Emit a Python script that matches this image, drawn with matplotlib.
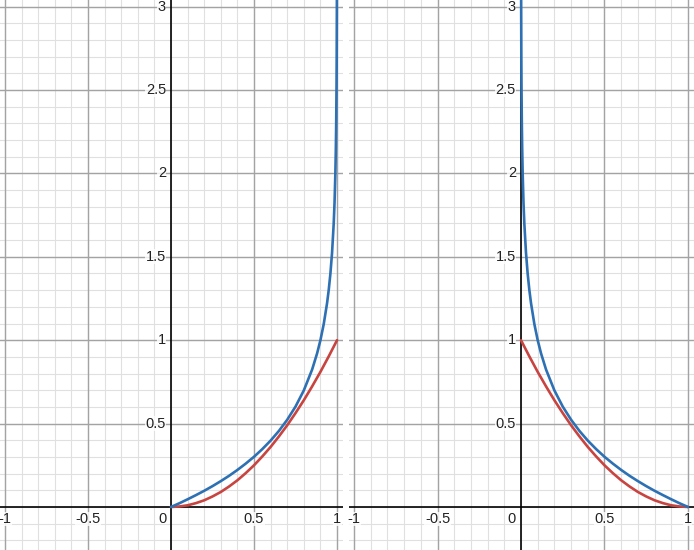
import numpy as np
import matplotlib
matplotlib.use('Agg')
import matplotlib.pyplot as plt

plt.rcParams['font.family'] = ['Liberation Sans', 'DejaVu Sans']

# left panel
x_left = [0, 0.05, 0.1, 0.15, 0.2, 0.25, 0.3, 0.35, 0.4, 0.45, 0.5, 0.55, 0.6,
          0.65, 0.7, 0.75, 0.8, 0.85, 0.88, 0.9, 0.92, 0.94, 0.95, 0.96, 0.97,
          0.98, 0.985, 0.99, 0.993, 0.995, 0.997, 0.998, 0.999, 0.9995]
blue_left = [0, 0.022, 0.046, 0.071, 0.097, 0.125, 0.155, 0.187, 0.222, 0.26,
             0.301, 0.347, 0.398, 0.456, 0.523, 0.602, 0.699, 0.824, 0.921, 1.0,
             1.097, 1.222, 1.301, 1.398, 1.523, 1.699, 1.824, 2.0, 2.155, 2.301,
             2.523, 2.699, 3.0, 3.3]
xr_left = [0, 0.05, 0.1, 0.15, 0.2, 0.25, 0.3, 0.35, 0.4, 0.45, 0.5, 0.55, 0.6,
           0.65, 0.7, 0.75, 0.8, 0.85, 0.9, 0.95, 1.0]
red_left = [0, 0.003, 0.01, 0.023, 0.04, 0.063, 0.09, 0.123, 0.16, 0.203, 0.25,
            0.303, 0.36, 0.423, 0.49, 0.563, 0.64, 0.723, 0.81, 0.903, 1.0]

# right panel
x_right = [1.0, 0.95, 0.9, 0.85, 0.8, 0.75, 0.7, 0.65, 0.6, 0.55, 0.5, 0.45, 0.4,
           0.35, 0.3, 0.25, 0.2, 0.15, 0.12, 0.1, 0.08, 0.06, 0.05, 0.04, 0.03,
           0.02, 0.015, 0.01, 0.007, 0.005, 0.003, 0.002, 0.001, 0.0005]
blue_right = blue_left
xr_right = [1.0, 0.95, 0.9, 0.85, 0.8, 0.75, 0.7, 0.65, 0.6, 0.55, 0.5, 0.45, 0.4,
            0.35, 0.3, 0.25, 0.2, 0.15, 0.1, 0.05, 0]
red_right = red_left

xticks = [-1, -0.5, 0.5, 1]
xlabels = ['-1', '-0.5', '0.5', '1']
yticks = [0.5, 1, 1.5, 2, 2.5, 3]
ylabels = ['0.5', '1', '1.5', '2', '2.5', '3']

BLUE = '#2d70b3'
RED = '#c74440'

fig = plt.figure(figsize=(6.94, 5.5), dpi=100)
panels = [([0, 0, 343/694., 1], x_left, blue_left, xr_left, red_left),
          ([349/694., 0, 345/694., 1], x_right, blue_right, xr_right, red_right)]

for rect, xb, yb, xr, yr in panels:
    ax = fig.add_axes(rect)
    ax.set_xlim(-1.03, 1.036)
    ax.set_ylim(-0.258, 3.04)
    for s in ax.spines.values():
        s.set_visible(False)
    ax.set_xticks([])
    ax.set_yticks([])
    for v in np.arange(-1.0, 1.05, 0.1):
        ax.axvline(v, color='#e0e0e0', lw=0.8, zorder=0)
    for v in np.arange(-0.2, 3.05, 0.1):
        ax.axhline(v, color='#e0e0e0', lw=0.8, zorder=0)
    for v in [-1, -0.5, 0.5, 1]:
        ax.axvline(v, color='#a3a3a3', lw=1.0, zorder=1)
    for v in [0.5, 1, 1.5, 2, 2.5, 3]:
        ax.axhline(v, color='#a3a3a3', lw=1.0, zorder=1)
    ax.axvline(0, color='black', lw=1.2, zorder=2)
    ax.axhline(0, color='black', lw=1.2, zorder=2)

    ax.plot(xr, yr, color=RED, lw=1.9, zorder=4, solid_capstyle='round')
    ax.plot(xb, yb, color=BLUE, lw=1.9, zorder=5, solid_capstyle='round')

    for v, t in zip(xticks, xlabels):
        ax.annotate(t, (v, 0), xytext=(0, -12), textcoords='offset pixels',
                    ha='center', va='center', fontsize=10.5, color='#222222',
                    zorder=3, bbox=dict(fc='white', ec='none', pad=0.3, alpha=0.8))
    for v, t in zip(yticks, ylabels):
        ax.annotate(t, (0, v), xytext=(-5, 0), textcoords='offset pixels',
                    ha='right', va='center', fontsize=10.5, color='#222222',
                    zorder=3, bbox=dict(fc='white', ec='none', pad=0.3, alpha=0.8))
    ax.annotate('0', (0, 0), xytext=(-9, -12), textcoords='offset pixels',
                ha='center', va='center', fontsize=10.5, color='#222222', zorder=3)

fig.savefig('out.png', dpi=100)
